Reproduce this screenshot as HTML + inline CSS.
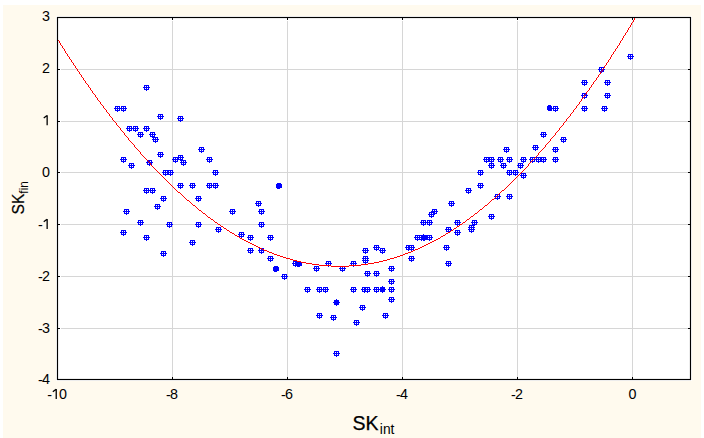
<!DOCTYPE html>
<html><head><meta charset="utf-8"><title>chart</title>
<style>
html,body{margin:0;padding:0;background:#fff;}
body{width:704px;height:438px;overflow:hidden;position:relative;font-family:"Liberation Sans",sans-serif;}
svg{position:absolute;left:0;top:0;}
text{font-family:"Liberation Sans",sans-serif;fill:#000;}
</style></head><body>
<svg width="704" height="438" viewBox="0 0 704 438">
<defs>
<g id="m" shape-rendering="crispEdges"><path fill="#0000ff" d="M-2 -2h5v5h-5zM0 3h1v1h-1zM-3 0h1v1h-1zM3 0h1v1h-1z"/><path fill="#fff" d="M-1 -1h1v1h-1zM1 -1h1v1h-1zM-1 1h1v1h-1zM1 1h1v1h-1z"/></g>
<g id="s" shape-rendering="crispEdges"><path fill="#0000ff" d="M-2 -2h5v5h-5zM0 -3h1v1h-1zM0 3h1v1h-1zM-3 0h1v1h-1zM3 0h1v1h-1z"/></g>
<g id="s3" shape-rendering="crispEdges"><path fill="#0000ff" d="M-2 -2h5v4h-5zM-1 -3h3v1h-3zM-1 2h4v1h-4z"/></g>
<g id="s2" shape-rendering="crispEdges"><path fill="#0000ff" d="M-2 -1h6v4h-6zM-1 -2h4v1h-4zM-1 3h3v1h-3z"/></g>
</defs>
<rect x="3" y="5" width="698" height="433" fill="#fffaee"/>
<rect x="56" y="16" width="636" height="365" fill="#fff"/>
<g stroke="#d6d6d6" stroke-width="1" shape-rendering="crispEdges">
<line x1="172.5" y1="20.5" x2="172.5" y2="376.5"/>
<line x1="287.5" y1="20.5" x2="287.5" y2="376.5"/>
<line x1="402.5" y1="20.5" x2="402.5" y2="376.5"/>
<line x1="517.5" y1="20.5" x2="517.5" y2="376.5"/>
<line x1="632.5" y1="20.5" x2="632.5" y2="376.5"/>
<line x1="60.5" y1="328.5" x2="687.5" y2="328.5"/>
<line x1="60.5" y1="276.5" x2="687.5" y2="276.5"/>
<line x1="60.5" y1="224.5" x2="687.5" y2="224.5"/>
<line x1="60.5" y1="172.5" x2="687.5" y2="172.5"/>
<line x1="60.5" y1="121.5" x2="687.5" y2="121.5"/>
<line x1="60.5" y1="69.5" x2="687.5" y2="69.5"/>
</g>
<g>
<use href="#m" x="146" y="87"/>
<use href="#m" x="117" y="108"/>
<use href="#m" x="123" y="108"/>
<use href="#m" x="160" y="116"/>
<use href="#m" x="180" y="118"/>
<use href="#m" x="129" y="128"/>
<use href="#m" x="135" y="128"/>
<use href="#m" x="140" y="134"/>
<use href="#m" x="146" y="128"/>
<use href="#m" x="152" y="134"/>
<use href="#m" x="155" y="139"/>
<use href="#m" x="123" y="159"/>
<use href="#m" x="131" y="165"/>
<use href="#m" x="149" y="162"/>
<use href="#m" x="160" y="154"/>
<use href="#m" x="175" y="159"/>
<use href="#m" x="180" y="157"/>
<use href="#m" x="183" y="162"/>
<use href="#m" x="201" y="149"/>
<use href="#m" x="209" y="159"/>
<use href="#m" x="215" y="172"/>
<use href="#m" x="165" y="172"/>
<use href="#m" x="170" y="172"/>
<use href="#m" x="180" y="185"/>
<use href="#m" x="192" y="185"/>
<use href="#m" x="209" y="185"/>
<use href="#m" x="215" y="185"/>
<use href="#m" x="146" y="190"/>
<use href="#m" x="152" y="190"/>
<use href="#m" x="163" y="198"/>
<use href="#m" x="198" y="198"/>
<use href="#m" x="157" y="206"/>
<use href="#m" x="126" y="211"/>
<use href="#m" x="232" y="211"/>
<use href="#m" x="140" y="222"/>
<use href="#m" x="169" y="224"/>
<use href="#m" x="198" y="224"/>
<use href="#m" x="123" y="232"/>
<use href="#m" x="218" y="229"/>
<use href="#m" x="146" y="237"/>
<use href="#m" x="192" y="242"/>
<use href="#m" x="163" y="253"/>
<use href="#m" x="258" y="203"/>
<use href="#m" x="261" y="211"/>
<use href="#m" x="261" y="224"/>
<use href="#m" x="241" y="234"/>
<use href="#m" x="250" y="237"/>
<use href="#m" x="270" y="237"/>
<use href="#m" x="250" y="250"/>
<use href="#m" x="261" y="250"/>
<use href="#m" x="270" y="258"/>
<use href="#m" x="284" y="276"/>
<use href="#m" x="295" y="263"/>
<use href="#m" x="316" y="268"/>
<use href="#m" x="328" y="263"/>
<use href="#m" x="342" y="268"/>
<use href="#m" x="353" y="263"/>
<use href="#m" x="365" y="250"/>
<use href="#m" x="365" y="258"/>
<use href="#m" x="365" y="260"/>
<use href="#m" x="367" y="273"/>
<use href="#m" x="307" y="289"/>
<use href="#m" x="319" y="289"/>
<use href="#m" x="325" y="289"/>
<use href="#m" x="353" y="289"/>
<use href="#m" x="376" y="247"/>
<use href="#m" x="382" y="250"/>
<use href="#m" x="376" y="273"/>
<use href="#m" x="391" y="268"/>
<use href="#m" x="391" y="281"/>
<use href="#m" x="364" y="289"/>
<use href="#m" x="367" y="289"/>
<use href="#m" x="376" y="289"/>
<use href="#m" x="391" y="289"/>
<use href="#m" x="391" y="299"/>
<use href="#m" x="408" y="247"/>
<use href="#m" x="411" y="247"/>
<use href="#m" x="411" y="258"/>
<use href="#m" x="417" y="237"/>
<use href="#m" x="421" y="237"/>
<use href="#m" x="424" y="237"/>
<use href="#m" x="429" y="237"/>
<use href="#m" x="423" y="222"/>
<use href="#m" x="429" y="222"/>
<use href="#m" x="448" y="229"/>
<use href="#m" x="457" y="222"/>
<use href="#m" x="457" y="232"/>
<use href="#m" x="446" y="247"/>
<use href="#m" x="448" y="263"/>
<use href="#m" x="471" y="227"/>
<use href="#m" x="471" y="229"/>
<use href="#m" x="474" y="222"/>
<use href="#m" x="362" y="307"/>
<use href="#m" x="319" y="315"/>
<use href="#m" x="333" y="317"/>
<use href="#m" x="356" y="322"/>
<use href="#m" x="385" y="315"/>
<use href="#m" x="336" y="353"/>
<use href="#m" x="486" y="159"/>
<use href="#m" x="491" y="159"/>
<use href="#m" x="491" y="165"/>
<use href="#m" x="480" y="172"/>
<use href="#m" x="480" y="185"/>
<use href="#m" x="468" y="190"/>
<use href="#m" x="497" y="196"/>
<use href="#m" x="509" y="196"/>
<use href="#m" x="451" y="203"/>
<use href="#m" x="434" y="211"/>
<use href="#m" x="431" y="214"/>
<use href="#m" x="491" y="216"/>
<use href="#m" x="630" y="56"/>
<use href="#m" x="601" y="69"/>
<use href="#m" x="584" y="82"/>
<use href="#m" x="607" y="82"/>
<use href="#m" x="584" y="95"/>
<use href="#m" x="607" y="95"/>
<use href="#m" x="584" y="108"/>
<use href="#m" x="604" y="108"/>
<use href="#m" x="555" y="108"/>
<use href="#m" x="543" y="134"/>
<use href="#m" x="563" y="139"/>
<use href="#m" x="535" y="147"/>
<use href="#m" x="555" y="149"/>
<use href="#m" x="506" y="149"/>
<use href="#m" x="509" y="159"/>
<use href="#m" x="500" y="159"/>
<use href="#m" x="503" y="165"/>
<use href="#m" x="523" y="159"/>
<use href="#m" x="520" y="165"/>
<use href="#m" x="532" y="159"/>
<use href="#m" x="538" y="159"/>
<use href="#m" x="543" y="159"/>
<use href="#m" x="555" y="159"/>
<use href="#m" x="509" y="172"/>
<use href="#m" x="515" y="172"/>
<use href="#m" x="523" y="175"/>
<use href="#s2" x="278" y="185"/>
<use href="#s" x="336" y="302"/>
<use href="#s2" x="275" y="268"/>
<use href="#s2" x="298" y="263"/>
<use href="#s" x="382" y="289"/>
<use href="#s" x="423" y="237"/>
<use href="#s3" x="549" y="108"/>
</g>
<path d="M58 40h1v1h-1zM59 41h1v1h-1zM59 42h1v1h-1zM60 43h1v1h-1zM60 44h1v1h-1zM61 45h1v1h-1zM62 46h1v1h-1zM62 47h1v1h-1zM63 48h1v1h-1zM64 49h1v1h-1zM64 50h1v1h-1zM65 51h1v1h-1zM65 52h1v1h-1zM66 53h1v1h-1zM67 54h1v1h-1zM67 55h1v1h-1zM68 56h1v1h-1zM69 57h1v1h-1zM69 58h1v1h-1zM70 59h1v1h-1zM71 60h1v1h-1zM71 61h1v1h-1zM72 62h1v1h-1zM73 63h1v1h-1zM73 64h1v1h-1zM74 65h1v1h-1zM75 66h1v1h-1zM75 67h1v1h-1zM76 68h1v1h-1zM77 69h1v1h-1zM77 70h1v1h-1zM78 71h1v1h-1zM79 72h1v1h-1zM79 73h1v1h-1zM80 74h1v1h-1zM81 75h1v1h-1zM81 76h1v1h-1zM82 77h1v1h-1zM83 78h1v1h-1zM83 79h1v1h-1zM84 80h1v1h-1zM85 81h1v1h-1zM85 82h1v1h-1zM86 83h1v1h-1zM87 84h1v1h-1zM88 85h1v1h-1zM88 86h1v1h-1zM89 87h1v1h-1zM90 88h1v1h-1zM90 89h1v1h-1zM91 90h1v1h-1zM92 91h1v1h-1zM92 92h1v1h-1zM93 93h1v1h-1zM94 94h1v1h-1zM95 95h1v1h-1zM95 96h1v1h-1zM96 97h1v1h-1zM97 98h1v1h-1zM97 99h1v1h-1zM98 100h1v1h-1zM99 101h1v1h-1zM100 102h1v1h-1zM100 103h1v1h-1zM101 104h1v1h-1zM102 105h1v1h-1zM103 106h1v1h-1zM103 107h1v1h-1zM104 108h1v1h-1zM105 109h1v1h-1zM106 110h1v1h-1zM106 111h1v1h-1zM107 112h1v1h-1zM108 113h1v1h-1zM109 114h1v1h-1zM109 115h1v1h-1zM110 116h1v1h-1zM111 117h1v1h-1zM112 118h1v1h-1zM112 119h1v1h-1zM113 120h1v1h-1zM114 121h1v1h-1zM115 122h1v1h-1zM116 123h1v1h-1zM116 124h1v1h-1zM117 125h1v1h-1zM118 126h1v1h-1zM119 127h1v1h-1zM120 128h1v1h-1zM120 129h1v1h-1zM121 130h1v1h-1zM122 131h1v1h-1zM123 132h1v1h-1zM124 133h1v1h-1zM124 134h1v1h-1zM125 135h1v1h-1zM126 136h1v1h-1zM127 137h1v1h-1zM128 138h1v1h-1zM128 139h1v1h-1zM129 140h1v1h-1zM130 141h1v1h-1zM131 142h1v1h-1zM132 143h1v1h-1zM133 144h1v1h-1zM134 145h1v1h-1zM134 146h1v1h-1zM135 147h1v1h-1zM136 148h1v1h-1zM137 149h1v1h-1zM138 150h1v1h-1zM139 151h1v1h-1zM140 152h1v1h-1zM140 153h1v1h-1zM141 154h1v1h-1zM142 155h1v1h-1zM143 156h1v1h-1zM144 157h1v1h-1zM145 158h1v1h-1zM146 159h1v1h-1zM147 160h1v1h-1zM148 161h1v1h-1zM149 162h1v1h-1zM150 163h1v1h-1zM150 164h1v1h-1zM151 165h1v1h-1zM152 166h1v1h-1zM153 167h1v1h-1zM154 168h1v1h-1zM155 169h1v1h-1zM156 170h1v1h-1zM157 171h1v1h-1zM158 172h1v1h-1zM159 173h1v1h-1zM160 174h1v1h-1zM161 175h1v1h-1zM162 176h1v1h-1zM163 177h1v1h-1zM164 178h1v1h-1zM165 179h1v1h-1zM166 180h1v1h-1zM167 181h1v1h-1zM168 182h1v1h-1zM169 183h1v1h-1zM170 184h1v1h-1zM171 185h1v1h-1zM172 186h1v1h-1zM173 187h1v1h-1zM174 188h1v1h-1zM175 189h1v1h-1zM176 190h1v1h-1zM177 191h1v1h-1zM178 192h2v1h-2zM180 193h1v1h-1zM181 194h1v1h-1zM182 195h1v1h-1zM183 196h1v1h-1zM184 197h1v1h-1zM185 198h1v1h-1zM186 199h1v1h-1zM187 200h2v1h-2zM189 201h1v1h-1zM190 202h1v1h-1zM191 203h1v1h-1zM192 204h1v1h-1zM193 205h2v1h-2zM195 206h1v1h-1zM196 207h1v1h-1zM197 208h1v1h-1zM198 209h1v1h-1zM199 210h2v1h-2zM201 211h1v1h-1zM202 212h1v1h-1zM203 213h2v1h-2zM205 214h1v1h-1zM206 215h1v1h-1zM207 216h1v1h-1zM208 217h2v1h-2zM210 218h1v1h-1zM211 219h2v1h-2zM213 220h1v1h-1zM214 221h1v1h-1zM215 222h2v1h-2zM217 223h1v1h-1zM218 224h2v1h-2zM220 225h1v1h-1zM221 226h2v1h-2zM223 227h1v1h-1zM224 228h2v1h-2zM226 229h1v1h-1zM227 230h2v1h-2zM229 231h1v1h-1zM230 232h2v1h-2zM232 233h2v1h-2zM234 234h1v1h-1zM235 235h2v1h-2zM237 236h2v1h-2zM239 237h1v1h-1zM240 238h2v1h-2zM242 239h2v1h-2zM244 240h2v1h-2zM246 241h2v1h-2zM248 242h2v1h-2zM250 243h2v1h-2zM252 244h2v1h-2zM254 245h2v1h-2zM256 246h2v1h-2zM258 247h2v1h-2zM260 248h2v1h-2zM262 249h2v1h-2zM264 250h3v1h-3zM267 251h2v1h-2zM269 252h3v1h-3zM272 253h2v1h-2zM274 254h3v1h-3zM277 255h3v1h-3zM280 256h3v1h-3zM283 257h3v1h-3zM286 258h4v1h-4zM290 259h3v1h-3zM293 260h4v1h-4zM297 261h4v1h-4zM301 262h5v1h-5zM306 263h6v1h-6zM312 264h7v1h-7zM319 265h12v1h-12zM331 266h18v1h-18zM349 265h12v1h-12zM361 264h7v1h-7zM368 263h6v1h-6zM374 262h5v1h-5zM379 261h4v1h-4zM383 260h4v1h-4zM387 259h3v1h-3zM390 258h4v1h-4zM394 257h3v1h-3zM397 256h3v1h-3zM400 255h3v1h-3zM403 254h2v1h-2zM405 253h3v1h-3zM408 252h3v1h-3zM411 251h2v1h-2zM413 250h2v1h-2zM415 249h3v1h-3zM418 248h2v1h-2zM420 247h2v1h-2zM422 246h2v1h-2zM424 245h2v1h-2zM426 244h2v1h-2zM428 243h2v1h-2zM430 242h2v1h-2zM432 241h2v1h-2zM434 240h2v1h-2zM436 239h2v1h-2zM438 238h2v1h-2zM440 237h1v1h-1zM441 236h2v1h-2zM443 235h2v1h-2zM445 234h1v1h-1zM446 233h2v1h-2zM448 232h2v1h-2zM450 231h1v1h-1zM451 230h2v1h-2zM453 229h1v1h-1zM454 228h2v1h-2zM456 227h1v1h-1zM457 226h2v1h-2zM459 225h1v1h-1zM460 224h2v1h-2zM462 223h1v1h-1zM463 222h2v1h-2zM465 221h1v1h-1zM466 220h1v1h-1zM467 219h2v1h-2zM469 218h1v1h-1zM470 217h1v1h-1zM471 216h2v1h-2zM473 215h1v1h-1zM474 214h1v1h-1zM475 213h2v1h-2zM477 212h1v1h-1zM478 211h1v1h-1zM479 210h1v1h-1zM480 209h2v1h-2zM482 208h1v1h-1zM483 207h1v1h-1zM484 206h1v1h-1zM485 205h2v1h-2zM487 204h1v1h-1zM488 203h1v1h-1zM489 202h1v1h-1zM490 201h1v1h-1zM491 200h1v1h-1zM492 199h2v1h-2zM494 198h1v1h-1zM495 197h1v1h-1zM496 196h1v1h-1zM497 195h1v1h-1zM498 194h1v1h-1zM499 193h1v1h-1zM500 192h1v1h-1zM501 191h1v1h-1zM502 190h2v1h-2zM504 189h1v1h-1zM505 188h1v1h-1zM506 187h1v1h-1zM507 186h1v1h-1zM508 185h1v1h-1zM509 184h1v1h-1zM510 183h1v1h-1zM511 182h1v1h-1zM512 181h1v1h-1zM513 180h1v1h-1zM514 179h1v1h-1zM515 178h1v1h-1zM516 177h1v1h-1zM517 176h1v1h-1zM518 175h1v1h-1zM519 174h1v1h-1zM520 173h1v1h-1zM521 172h1v1h-1zM522 171h1v1h-1zM523 170h1v1h-1zM524 169h1v1h-1zM525 168h1v1h-1zM526 167h1v1h-1zM527 166h1v1h-1zM528 164h1v1h-1zM528 165h1v1h-1zM529 163h1v1h-1zM530 162h1v1h-1zM531 161h1v1h-1zM532 160h1v1h-1zM533 159h1v1h-1zM534 158h1v1h-1zM535 157h1v1h-1zM536 156h1v1h-1zM537 155h1v1h-1zM538 153h1v1h-1zM538 154h1v1h-1zM539 152h1v1h-1zM540 151h1v1h-1zM541 150h1v1h-1zM542 149h1v1h-1zM543 148h1v1h-1zM544 147h1v1h-1zM545 145h1v1h-1zM545 146h1v1h-1zM546 144h1v1h-1zM547 143h1v1h-1zM548 142h1v1h-1zM549 141h1v1h-1zM550 139h1v1h-1zM550 140h1v1h-1zM551 138h1v1h-1zM552 137h1v1h-1zM553 136h1v1h-1zM554 135h1v1h-1zM555 133h1v1h-1zM555 134h1v1h-1zM556 132h1v1h-1zM557 131h1v1h-1zM558 130h1v1h-1zM559 128h1v1h-1zM559 129h1v1h-1zM560 127h1v1h-1zM561 126h1v1h-1zM562 125h1v1h-1zM563 123h1v1h-1zM563 124h1v1h-1zM564 122h1v1h-1zM565 121h1v1h-1zM566 119h1v1h-1zM566 120h1v1h-1zM567 118h1v1h-1zM568 117h1v1h-1zM569 116h1v1h-1zM570 114h1v1h-1zM570 115h1v1h-1zM571 113h1v1h-1zM572 112h1v1h-1zM573 110h1v1h-1zM573 111h1v1h-1zM574 109h1v1h-1zM575 108h1v1h-1zM576 106h1v1h-1zM576 107h1v1h-1zM577 105h1v1h-1zM578 104h1v1h-1zM579 102h1v1h-1zM579 103h1v1h-1zM580 101h1v1h-1zM581 99h1v1h-1zM581 100h1v1h-1zM582 98h1v1h-1zM583 97h1v1h-1zM584 95h1v1h-1zM584 96h1v1h-1zM585 94h1v1h-1zM586 92h1v1h-1zM586 93h1v1h-1zM587 91h1v1h-1zM588 90h1v1h-1zM589 88h1v1h-1zM589 89h1v1h-1zM590 87h1v1h-1zM591 85h1v1h-1zM591 86h1v1h-1zM592 84h1v1h-1zM593 82h1v1h-1zM593 83h1v1h-1zM594 81h1v1h-1zM595 80h1v1h-1zM596 78h1v1h-1zM596 79h1v1h-1zM597 77h1v1h-1zM598 75h1v1h-1zM598 76h1v1h-1zM599 74h1v1h-1zM600 72h1v1h-1zM600 73h1v1h-1zM601 71h1v1h-1zM602 69h1v1h-1zM602 70h1v1h-1zM603 68h1v1h-1zM604 66h1v1h-1zM604 67h1v1h-1zM605 65h1v1h-1zM606 63h1v1h-1zM606 64h1v1h-1zM607 62h1v1h-1zM608 60h1v1h-1zM608 61h1v1h-1zM609 59h1v1h-1zM610 57h1v1h-1zM610 58h1v1h-1zM611 55h1v1h-1zM611 56h1v1h-1zM612 54h1v1h-1zM613 52h1v1h-1zM613 53h1v1h-1zM614 51h1v1h-1zM615 49h1v1h-1zM615 50h1v1h-1zM616 48h1v1h-1zM617 46h1v1h-1zM617 47h1v1h-1zM618 45h1v1h-1zM619 43h1v1h-1zM619 44h1v1h-1zM620 41h1v1h-1zM620 42h1v1h-1zM621 40h1v1h-1zM622 38h1v1h-1zM622 39h1v1h-1zM623 36h1v1h-1zM623 37h1v1h-1zM624 35h1v1h-1zM625 33h1v1h-1zM625 34h1v1h-1zM626 32h1v1h-1zM627 30h1v1h-1zM627 31h1v1h-1zM628 28h1v1h-1zM628 29h1v1h-1zM629 27h1v1h-1zM630 25h1v1h-1zM630 26h1v1h-1zM631 23h1v1h-1zM631 24h1v1h-1zM632 22h1v1h-1zM633 20h1v1h-1zM633 21h1v1h-1zM634 18h1v1h-1zM634 19h1v1h-1z" fill="#ff0000" shape-rendering="crispEdges"/>
<rect x="57.5" y="17.5" width="633.0" height="362.0" fill="none" stroke="#000" stroke-width="1.15"/>
<g stroke="#000" stroke-width="1" shape-rendering="crispEdges">
<line x1="172.5" y1="17.5" x2="172.5" y2="20.0"/>
<line x1="172.5" y1="379.5" x2="172.5" y2="377.0"/>
<line x1="287.5" y1="17.5" x2="287.5" y2="20.0"/>
<line x1="287.5" y1="379.5" x2="287.5" y2="377.0"/>
<line x1="402.5" y1="17.5" x2="402.5" y2="20.0"/>
<line x1="402.5" y1="379.5" x2="402.5" y2="377.0"/>
<line x1="517.5" y1="17.5" x2="517.5" y2="20.0"/>
<line x1="517.5" y1="379.5" x2="517.5" y2="377.0"/>
<line x1="632.5" y1="17.5" x2="632.5" y2="20.0"/>
<line x1="632.5" y1="379.5" x2="632.5" y2="377.0"/>
<line x1="57.5" y1="328.5" x2="60.0" y2="328.5"/>
<line x1="690.5" y1="328.5" x2="688.0" y2="328.5"/>
<line x1="57.5" y1="276.5" x2="60.0" y2="276.5"/>
<line x1="690.5" y1="276.5" x2="688.0" y2="276.5"/>
<line x1="57.5" y1="224.5" x2="60.0" y2="224.5"/>
<line x1="690.5" y1="224.5" x2="688.0" y2="224.5"/>
<line x1="57.5" y1="172.5" x2="60.0" y2="172.5"/>
<line x1="690.5" y1="172.5" x2="688.0" y2="172.5"/>
<line x1="57.5" y1="121.5" x2="60.0" y2="121.5"/>
<line x1="690.5" y1="121.5" x2="688.0" y2="121.5"/>
<line x1="57.5" y1="69.5" x2="60.0" y2="69.5"/>
<line x1="690.5" y1="69.5" x2="688.0" y2="69.5"/>
</g>
<g font-size="14.3px">
<text x="47.17" y="399.80">-</text><path d="M56.23 399.00V388.90M56.13 389.30L52.83 391.80" stroke="#000" stroke-width="1.3" fill="none"/><text x="59.08" y="399.00">0</text>
<text x="165.94" y="399.80">-</text><text x="169.91" y="399.00">8</text>
<text x="280.94" y="399.80">-</text><text x="284.91" y="399.00">6</text>
<text x="395.94" y="399.80">-</text><text x="399.91" y="399.00">4</text>
<text x="510.94" y="399.80">-</text><text x="514.91" y="399.00">2</text>
<text x="628.52" y="399.00">0</text>
<text x="38.09" y="384.80">-</text><text x="42.05" y="384.00">4</text>
<text x="38.09" y="333.80">-</text><text x="42.05" y="333.00">3</text>
<text x="38.09" y="281.80">-</text><text x="42.05" y="281.00">2</text>
<text x="38.09" y="229.80">-</text><path d="M47.15 229.00V218.90M47.05 219.30L43.75 221.80" stroke="#000" stroke-width="1.3" fill="none"/>
<text x="42.05" y="177.00">0</text>
<path d="M47.15 125.30V115.20M47.05 115.60L43.75 118.10" stroke="#000" stroke-width="1.3" fill="none"/>
<text x="42.05" y="73.00">2</text>
<text x="42.05" y="21.00">3</text>
</g>
<text x="352.5" y="429.8" font-size="19.5px" stroke="#000" stroke-width="0.25">SK<tspan font-size="13.8px" dy="4" dx="1.3" stroke="none">int</tspan></text>
<text transform="translate(24.2,214.5) rotate(-90) scale(0.92,1)" font-size="17px" stroke="#000" stroke-width="0.2">SK<tspan font-size="12.9px" dy="3.8" dx="0" stroke="none">fin</tspan></text>
</svg>
</body></html>
